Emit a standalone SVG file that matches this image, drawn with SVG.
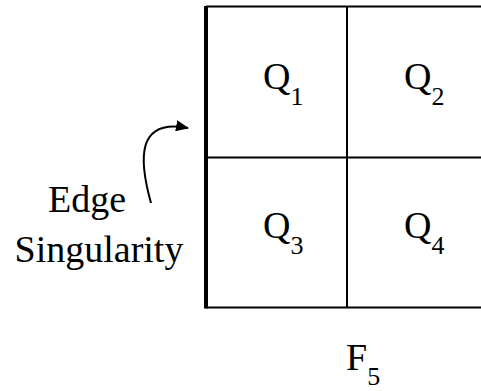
<svg xmlns="http://www.w3.org/2000/svg" width="481" height="391" viewBox="0 0 481 391">
<style>
.t{font-family:"Liberation Serif","Times New Roman",serif;font-size:38px;fill:#000}
.s{font-size:26px}
.ln{stroke:#000;stroke-width:2;fill:none}
</style>
<defs>
<marker id="ah" markerWidth="13" markerHeight="11" refX="12" refY="5.5" orient="auto" markerUnits="userSpaceOnUse">
<path d="M0,0 L13,5.5 L0,11 Z" fill="#000"/>
</marker>
</defs>
<rect width="481" height="391" fill="#fff"/>
<g id="grid">
<line class="ln" x1="206" y1="6.5" x2="481" y2="6.5"/>
<line class="ln" x1="206" y1="157.5" x2="481" y2="157.5"/>
<line class="ln" x1="206" y1="307.5" x2="481" y2="307.5"/>
<line class="ln" x1="347" y1="6.5" x2="347" y2="307.5"/>
<line x1="206" y1="6" x2="206" y2="308.5" stroke="#000" stroke-width="4"/>
</g>
<g id="q1"><text class="t" x="263" y="89">Q<tspan class="s" dy="16">1</tspan></text></g>
<g id="q2"><text class="t" x="404" y="89">Q<tspan class="s" dy="16">2</tspan></text></g>
<g id="q3"><text class="t" x="263" y="238">Q<tspan class="s" dy="16">3</tspan></text></g>
<g id="q4"><text class="t" x="404" y="238">Q<tspan class="s" dy="16">4</tspan></text></g>
<g id="label"><text class="t" x="87" y="212" text-anchor="middle">Edge</text><text class="t" x="99" y="262" text-anchor="middle">Singularity</text></g>
<g id="f5"><text class="t" x="346" y="370">F<tspan class="s" dy="15">5</tspan></text></g>
<g id="connectors">
<path class="ln" d="M151,203 C139,160 136,118 188,128" stroke-width="1.8" marker-end="url(#ah)"/>
</g>
</svg>
